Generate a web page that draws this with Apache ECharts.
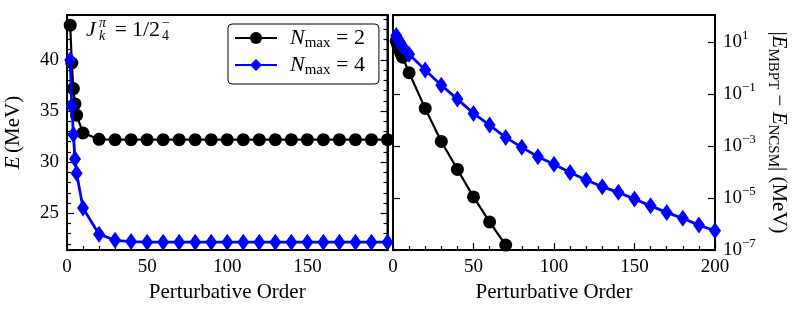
<!DOCTYPE html>
<html><head><meta charset="utf-8">
<script src="https://cdn.jsdelivr.net/npm/echarts@6/dist/echarts.min.js"></script>
<style>html,body{margin:0;padding:0;background:#fff}#c{width:798px;height:313px}</style>
</head><body><div id="c"></div>
<script>
// ---------- data ----------
const orders = [2,3,4,5,6,10,20,30,40,50,60,70,80,90,100,110,120,130,140,150,160,170,180,190,200];
const energyNmax2 = [43.4,39.7,37.2,35.7,34.6,32.85,32.23,32.2,32.2,32.2,32.2,32.2,32.2,32.2,32.2,32.2,32.2,32.2,32.2,32.2,32.2,32.2,32.2,32.2,32.2];
const energyNmax4 = [40.0,35.5,32.7,30.3,28.9,25.5,22.95,22.35,22.22,22.17,22.17,22.17,22.17,22.17,22.17,22.17,22.17,22.17,22.17,22.17,22.17,22.17,22.17,22.17,22.17];
const diffOrdersNmax2 = [2,3,4,5,6,10,20,30,40,50,60,70];
const diffNmax2 = [11.2,7.5,5.0,3.5,2.6,0.66,0.028,1.5e-3,1.26e-4,1.1e-5,1.2e-6,1.55e-7];
const diffOrdersNmax4 = [2,3,4,5,6,10,20,30,40,50,60,70,80,90,100,110,120,130,140,150,160,170,180,190,200];
const diffNmax4 = [17.9,13.3,10.5,8.1,6.7,3.4,0.84,0.22,0.064,0.018,6.4e-3,2.15e-3,8.9e-4,3.9e-4,2.0e-4,9.5e-5,4.9e-5,2.7e-5,1.65e-5,9.1e-6,5.0e-6,2.8e-6,1.65e-6,9.1e-7,5.5e-7];
const seriesNames = ['Nmax2','Nmax4'];
const seriesLabels = {Nmax2:'2', Nmax4:'4'};
const logTickExponents = [-7,-5,-3,-1,1];

// ---------- style ----------
const FONT = 'Liberation Serif';
const TICK = 19;
const NAME = 21;
const pair = (xs, ys) => xs.map((x, i) => [x, ys[i]]);

const tickCommon = {
  axisLine: {show: true, lineStyle: {color: '#000', width: 2}},
  axisTick: {show: true, inside: true, length: 7, lineStyle: {color: '#000', width: 1.2}},
  splitLine: {show: false},
};
const labelStyle = {color: '#000', fontFamily: FONT, fontSize: TICK};

const xCommon = (gi, showMax) => Object.assign({
  type: 'value', gridIndex: gi, min: 0, max: 200, interval: 50,
  minorTick: {show: true, splitNumber: 5, length: 4, lineStyle: {color: '#000', width: 1.2}},
  axisLabel: Object.assign({margin: 8, showMaxLabel: showMax, showMinLabel: true}, labelStyle),
  name: 'Perturbative Order', nameLocation: 'middle', nameGap: 30,
  nameTextStyle: {color: '#000', fontFamily: FONT, fontSize: NAME}
}, tickCommon);

const linY = (pos, showLabel) => Object.assign({
  type: 'value', gridIndex: 0, min: 21.4, max: 44.4, splitNumber: 5, position: pos,
  minorTick: {show: true, splitNumber: 5, length: 4, lineStyle: {color: '#000', width: 1.2}},
  axisLabel: Object.assign({show: showLabel, margin: 8, showMinLabel: false, showMaxLabel: false}, labelStyle)
}, tickCommon);

const supRich = {
  b: {fontFamily: FONT, fontSize: TICK, color: '#000', lineHeight: 26},
  sup: {fontFamily: FONT, fontSize: 13, color: '#000', lineHeight: 13, verticalAlign: 'top'}
};
const logY = (pos, showLabel) => Object.assign({
  type: 'log', gridIndex: 1, min: 1e-7, max: 110, interval: 2, logBase: 10, position: pos,
  minorTick: {show: false},
  axisLabel: {show: showLabel, margin: 8, showMaxLabel: false, rich: supRich,
    formatter: v => {
      const e = Math.round(Math.log10(v));
      if (logTickExponents.indexOf(e) < 0 || Math.abs(Math.log10(v) - e) > 0.01) return '';
      return '{b|10}{sup|' + (e < 0 ? '\u2212' + (-e) : e) + '}';
    }}
}, tickCommon);

const subRich = {
  m: {fontFamily: FONT, fontSize: NAME, color: '#000', lineHeight: 28},
  i: {fontFamily: FONT, fontSize: NAME, fontStyle: 'italic', color: '#000', lineHeight: 28},
  s: {fontFamily: FONT, fontSize: 15, color: '#000', lineHeight: 15, verticalAlign: 'bottom'}
};

const yAxes = [
  Object.assign(linY('left', true), {
    name: '{i|E} {m|(MeV)}', nameLocation: 'middle', nameRotate: 90, nameGap: 40,
    nameTextStyle: {rich: subRich}
  }),
  linY('right', false),
  logY('left', false),
  Object.assign(logY('right', true), {
    name: '{m||}{i|E}{s|MBPT}{m| \u2212 }{i|E}{s|NCSM}{m|| (MeV)}',
    nameLocation: 'middle', nameRotate: -90, nameGap: 50,
    nameTextStyle: {rich: subRich}
  })
];

const blackStyle = {type: 'line', symbol: 'circle', symbolSize: 13,
  lineStyle: {color: '#000', width: 2.2}, itemStyle: {color: '#000'}, z: 2};
const blueStyle = {type: 'line', symbol: 'diamond', symbolSize: [12, 17],
  lineStyle: {color: '#0000ff', width: 2.8}, itemStyle: {color: '#0000ff'}, z: 3};

const series = [
  Object.assign({name: seriesNames[0], xAxisIndex: 0, yAxisIndex: 0, data: pair(orders, energyNmax2)}, blackStyle),
  Object.assign({name: seriesNames[1], xAxisIndex: 0, yAxisIndex: 0, data: pair(orders, energyNmax4)}, blueStyle),
  Object.assign({name: seriesNames[0], xAxisIndex: 1, yAxisIndex: 2, data: pair(diffOrdersNmax2, diffNmax2)}, blackStyle),
  Object.assign({name: seriesNames[1], xAxisIndex: 1, yAxisIndex: 2, data: pair(diffOrdersNmax4, diffNmax4)}, blueStyle)
];
series.forEach(s => { s.animation = false; s.showSymbol = true; s.clip = true; });

const annFont = {fontFamily: FONT, fill: '#000'};
const chart = echarts.init(document.getElementById('c'), null, {renderer: 'canvas'});
chart.setOption({
  backgroundColor: '#fff',
  animation: false,
  grid: [
    {left: 67, top: 15, width: 320.5, height: 235, show: true, borderColor: '#000', borderWidth: 2, containLabel: false, outerBoundsMode: 'none'},
    {left: 393, top: 15, width: 322, height: 235, show: true, borderColor: '#000', borderWidth: 2, containLabel: false, outerBoundsMode: 'none'}
  ],
  xAxis: [xCommon(0, false), xCommon(1, true)],
  yAxis: yAxes,
  legend: {
    data: seriesNames, orient: 'vertical', left: 228, top: 24,
    itemWidth: 42, itemHeight: 15, itemGap: 3,
    padding: [3, 14, 6, 6],
    borderColor: '#000', borderWidth: 1, borderRadius: 4, backgroundColor: '#fff',
    formatter: n => '{p|}{n|N}{s|max}{t| = ' + seriesLabels[n] + '}',
    textStyle: {rich: {
      p: {width: 8},
      n: {fontFamily: FONT, fontSize: 22, fontStyle: 'italic', color: '#000', lineHeight: 26},
      s: {fontFamily: FONT, fontSize: 15, color: '#000', lineHeight: 14, verticalAlign: 'bottom'},
      t: {fontFamily: FONT, fontSize: 22, color: '#000', lineHeight: 26}
    }}
  },
  graphic: [
    {type: 'text', x: 86, y: 30, style: Object.assign({text: 'J', fontSize: 22, fontStyle: 'italic', verticalAlign: 'middle'}, annFont)},
    {type: 'text', x: 99, y: 23, style: Object.assign({text: '\u03c0', fontSize: 14, fontStyle: 'italic', verticalAlign: 'middle'}, annFont)},
    {type: 'text', x: 99, y: 36, style: Object.assign({text: 'k', fontSize: 14, fontStyle: 'italic', verticalAlign: 'middle'}, annFont)},
    {type: 'text', x: 115, y: 30, style: Object.assign({text: '=', fontSize: 21, verticalAlign: 'middle'}, annFont)},
    {type: 'text', x: 132, y: 30, style: Object.assign({text: '1/2', fontSize: 22, verticalAlign: 'middle'}, annFont)},
    {type: 'text', x: 162, y: 23, style: Object.assign({text: '\u2212', fontSize: 14, verticalAlign: 'middle'}, annFont)},
    {type: 'text', x: 162, y: 36, style: Object.assign({text: '4', fontSize: 14, verticalAlign: 'middle'}, annFont)}
  ],
  series: series
});
</script></body></html>
